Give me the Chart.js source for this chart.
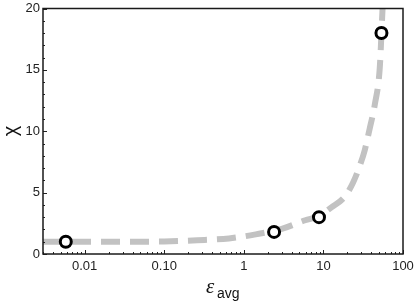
<!DOCTYPE html>
<html>
<head>
<meta charset="utf-8">
<script src="https://cdn.jsdelivr.net/npm/chart.js@4"></script>
<style>
  html, body { margin: 0; padding: 0; background: #fff; }
  #wrap { width: 415px; height: 302px; }
</style>
</head>
<body>
<div id="wrap"><canvas id="chiChart" width="415" height="302"></canvas></div>
<script>
// dashed model curve
const curveX = [0.003, 0.01, 0.05, 0.1, 0.26, 0.65, 1.41, 3.0, 5.9, 8.8, 12.6, 18.7, 23.7, 28.7, 33.2, 38.1, 44.3, 51.1, 55.1, 57];
const curveY = [1.0, 1.0, 1.0, 1.02, 1.12, 1.27, 1.6, 2.05, 2.75, 3.1, 3.8, 4.7, 5.85, 7.2, 8.5, 10.2, 12.2, 15.2, 19.7, 21.5];

// measured points (open circles)
const pointX = [0.0058, 2.4, 8.8, 53.6];
const pointY = [1.0, 1.8, 3.0, 18.0];

// tick labels
const xTicks = [0.01, 0.1, 1, 10, 100];
const xTickLabels = ['0.01', '0.10', '1', '10', '100'];
const yTicks = [0, 5, 10, 15, 20];

const xMin = 0.003, xMax = 100, yMin = 0, yMax = 20;

const frameAndTicks = {
    id: 'frameAndTicks',
    afterDraw(chart) {
        const { ctx, chartArea: a, scales: { x, y } } = chart;
        ctx.save();
        ctx.strokeStyle = '#222';
        ctx.lineWidth = 1;
        // minor / major ticks on the x axis, pointing inward
        for (let d = -3; d <= 2; d++) {
            for (let m = 1; m <= 9; m++) {
                const v = m * Math.pow(10, d);
                if (v < xMin - 1e-9 || v > xMax + 1e-9) continue;
                const px = Math.round(x.getPixelForValue(v)) + 0.5;
                const len = m === 1 ? 4 : 2;
                ctx.beginPath();
                ctx.moveTo(px, a.bottom);
                ctx.lineTo(px, a.bottom - len);
                ctx.stroke();
            }
        }
        // ticks on the y axis
        for (let v = yMin; v <= yMax; v++) {
            const py = Math.round(y.getPixelForValue(v)) + 0.5;
            const len = v % 5 === 0 ? 4 : 2;
            ctx.beginPath();
            ctx.moveTo(a.left, py);
            ctx.lineTo(a.left + len, py);
            ctx.stroke();
        }
        // frame
        ctx.lineWidth = 1.5;
        ctx.strokeStyle = '#1a1a1a';
        ctx.strokeRect(a.left, a.top, a.right - a.left, a.bottom - a.top);

        // axis titles
        ctx.fillStyle = '#111';
        ctx.textBaseline = 'alphabetic';
        ctx.font = 'italic 21px "Liberation Serif", serif';
        ctx.fillText('\u03B5', 206, 293);
        ctx.font = '14px "Liberation Sans", Arial, sans-serif';
        ctx.fillText('avg', 217, 298);

        ctx.translate(17, 131);
        ctx.rotate(-Math.PI / 2);
        ctx.textAlign = 'center';
        ctx.font = '20px "Liberation Sans", Arial, sans-serif';
        ctx.fillText('\u03C7', 0, 0);
        ctx.restore();
    }
};

const ctx = document.getElementById('chiChart').getContext('2d');
const chiChart = new Chart(ctx, {
    type: 'scatter',
    data: {
        datasets: [
            {
                label: 'measured',
                data: pointX.map((v, i) => ({ x: v, y: pointY[i] })),
                pointRadius: 5.5,
                pointBorderWidth: 3,
                pointBorderColor: '#000',
                pointBackgroundColor: '#fff',
                showLine: false,
                order: 0
            },
            {
                label: 'model',
                data: curveX.map((v, i) => ({ x: v, y: curveY[i] })),
                showLine: true,
                borderColor: '#c2c2c2',
                borderWidth: 6,
                borderDash: [19, 10],
                borderCapStyle: 'butt',
                cubicInterpolationMode: 'monotone',
                pointRadius: 0,
                clip: 0,
                order: 1
            }
        ]
    },
    options: {
        responsive: false,
        animation: false,
        layout: { padding: { left: 0, top: 7, right: 12, bottom: 0 } },
        plugins: { legend: { display: false }, tooltip: { enabled: false } },
        scales: {
            x: {
                type: 'logarithmic',
                min: xMin,
                max: xMax,
                grid: { display: false, drawTicks: false },
                border: { display: false },
                afterBuildTicks(scale) {
                    scale.ticks = xTicks.map(v => ({ value: v }));
                },
                afterFit(scale) {
                    scale.height = 48;
                    scale.paddingLeft = 0;
                    scale.paddingRight = 0;
                },
                ticks: {
                    autoSkip: false,
                    maxRotation: 0,
                    padding: 5,
                    color: '#222',
                    font: { family: '"Liberation Sans", Arial, sans-serif', size: 13 },
                    callback: (v) => {
                        const i = xTicks.findIndex(t => Math.abs(t - v) < 1e-9);
                        return i >= 0 ? xTickLabels[i] : '';
                    }
                }
            },
            y: {
                min: yMin,
                max: yMax,
                grid: { display: false, drawTicks: false },
                border: { display: false },
                afterBuildTicks(scale) {
                    scale.ticks = yTicks.map(v => ({ value: v }));
                },
                afterFit(scale) {
                    scale.width = 43;
                    scale.paddingTop = 0;
                    scale.paddingBottom = 0;
                },
                ticks: {
                    padding: 3,
                    color: '#222',
                    font: { family: '"Liberation Sans", Arial, sans-serif', size: 13 }
                }
            }
        }
    },
    plugins: [frameAndTicks]
});
</script>
</body>
</html>
